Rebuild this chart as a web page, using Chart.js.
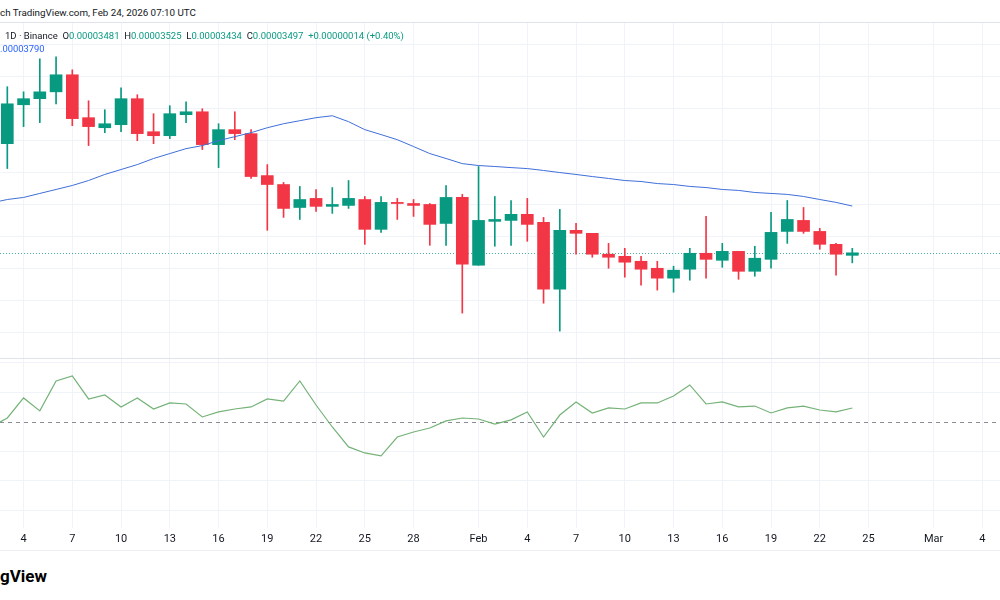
<!DOCTYPE html>
<html>
<head>
<meta charset="utf-8">
<script src="https://cdn.jsdelivr.net/npm/chart.js@4.4.1/dist/chart.umd.min.js"></script>
<style>
  html, body { margin:0; padding:0; background:#fff; }
  body { width:1000px; height:600px; position:relative; overflow:hidden; font-family: Roboto, "Noto Sans", sans-serif; color:#131722; }
  .abs { position:absolute; }
  .txt { white-space:nowrap; line-height:12px; font-size:10px; }
  .g { color:#089981; }
</style>
</head>
<body>
<script>
// ---------- DATA ----------
const dates = [
 '2026-01-02','2026-01-03','2026-01-04','2026-01-05','2026-01-06','2026-01-07','2026-01-08','2026-01-09','2026-01-10','2026-01-11',
 '2026-01-12','2026-01-13','2026-01-14','2026-01-15','2026-01-16','2026-01-17','2026-01-18','2026-01-19','2026-01-20','2026-01-21',
 '2026-01-22','2026-01-23','2026-01-24','2026-01-25','2026-01-26','2026-01-27','2026-01-28','2026-01-29','2026-01-30','2026-01-31',
 '2026-02-01','2026-02-02','2026-02-03','2026-02-04','2026-02-05','2026-02-06','2026-02-07','2026-02-08','2026-02-09','2026-02-10',
 '2026-02-11','2026-02-12','2026-02-13','2026-02-14','2026-02-15','2026-02-16','2026-02-17','2026-02-18','2026-02-19','2026-02-20',
 '2026-02-21','2026-02-22','2026-02-23','2026-02-24'
];
const openPrices = [null,
 0.00004181,0.00004425,0.00004463,0.00004506,0.00004613,0.00004344,0.00004281,0.00004300,0.00004463,0.00004256,
 0.00004231,0.00004363,0.00004381,0.00004175,0.00004269,0.00004244,0.00003981,0.00003925,0.00003781,0.00003838,
 0.00003788,0.00003794,0.00003831,0.00003644,0.00003813,0.00003806,0.00003800,0.00003681,0.00003844,
 0.00003419,0.00003694,0.00003700,0.00003738,0.00003688,0.00003269,0.00003638,0.00003619,0.00003488,0.00003475,
 0.00003444,0.00003400,0.00003338,0.00003394,0.00003494,0.00003450,0.00003506,0.00003381,0.00003456,0.00003631,
 0.00003700,0.00003631,0.00003550,0.00003481];
const highPrices = [null,
 0.00004538,0.00004506,0.00004713,0.00004725,0.00004644,0.00004450,0.00004394,0.00004531,0.00004488,0.00004369,
 0.00004419,0.00004444,0.00004400,0.00004306,0.00004381,0.00004269,0.00004050,0.00003938,0.00003913,0.00003894,
 0.00003906,0.00003950,0.00003850,0.00003850,0.00003838,0.00003831,0.00003806,0.00003919,0.00003863,
 0.00004038,0.00003850,0.00003825,0.00003838,0.00003719,0.00003769,0.00003681,0.00003619,0.00003556,0.00003525,
 0.00003475,0.00003444,0.00003413,0.00003525,0.00003725,0.00003556,0.00003506,0.00003538,0.00003750,0.00003825,
 0.00003781,0.00003650,0.00003556,0.00003525];
const lowPrices = [null,
 0.00004025,0.00004288,0.00004313,0.00004431,0.00004294,0.00004169,0.00004250,0.00004256,0.00004200,0.00004181,
 0.00004213,0.00004313,0.00004144,0.00004031,0.00004206,0.00003963,0.00003638,0.00003719,0.00003706,0.00003756,
 0.00003744,0.00003775,0.00003550,0.00003625,0.00003706,0.00003725,0.00003544,0.00003544,0.00003119,
 0.00003419,0.00003538,0.00003544,0.00003569,0.00003181,0.00003006,0.00003488,0.00003469,0.00003400,0.00003344,
 0.00003294,0.00003263,0.00003250,0.00003325,0.00003338,0.00003406,0.00003331,0.00003350,0.00003400,0.00003556,
 0.00003619,0.00003519,0.00003356,0.00003434];
const closePrices = [null,
 0.00004431,0.00004463,0.00004506,0.00004613,0.00004338,0.00004288,0.00004306,0.00004463,0.00004244,0.00004231,
 0.00004369,0.00004381,0.00004175,0.00004269,0.00004244,0.00003975,0.00003925,0.00003775,0.00003831,0.00003788,
 0.00003800,0.00003838,0.00003644,0.00003813,0.00003806,0.00003794,0.00003675,0.00003844,0.00003425,
 0.00003700,0.00003706,0.00003738,0.00003675,0.00003269,0.00003638,0.00003619,0.00003488,0.00003469,0.00003438,
 0.00003394,0.00003338,0.00003388,0.00003494,0.00003456,0.00003506,0.00003381,0.00003463,0.00003625,0.00003706,
 0.00003631,0.00003550,0.00003488,0.00003497];
const maValues = [
 0.00003809,0.00003831,0.00003844,0.00003869,0.00003894,0.00003919,0.00003950,0.00003988,0.00004019,0.00004050,
 0.00004088,0.00004119,0.00004150,0.00004169,0.00004200,0.00004225,0.00004250,0.00004281,0.00004306,0.00004325,
 0.00004344,0.00004356,0.00004319,0.00004269,0.00004238,0.00004206,0.00004163,0.00004119,0.00004088,0.00004056,
 0.00004044,0.00004038,0.00004031,0.00004025,0.00004013,0.00004000,0.00003988,0.00003975,0.00003963,0.00003950,
 0.00003944,0.00003931,0.00003925,0.00003913,0.00003906,0.00003894,0.00003888,0.00003875,0.00003869,0.00003863,
 0.00003850,0.00003831,0.00003813,0.00003790];
const oscValues = [
 46.6,52.7,66.3,57.5,77.8,81.2,65.6,68.3,60.2,66.3,
 58.8,62.9,62.2,53.4,56.8,58.8,60.2,65.6,64.2,77.8,
 61.5,46.6,33.1,29.0,27.0,39.8,43.2,45.9,50.7,52.7,
 52.0,48.6,51.4,56.8,39.8,54.7,63.6,56.1,59.5,58.8,
 62.9,62.9,67.6,75.1,62.2,63.6,60.2,60.8,56.1,59.5,
 60.8,58.1,56.8,59.5];
const axisTickDates = ['2026-01-04','2026-01-07','2026-01-10','2026-01-13','2026-01-16','2026-01-19','2026-01-22','2026-01-25','2026-01-28',
 '2026-02-01','2026-02-04','2026-02-07','2026-02-10','2026-02-13','2026-02-16','2026-02-19','2026-02-22','2026-02-25','2026-03-01','2026-03-04'];
const axisTickLabels = ['4','7','10','13','16','19','22','25','28','Feb','4','7','10','13','16','19','22','25','Mar','4'];
const priceGridLevels = [0.000030,0.000032,0.000034,0.000036,0.000038,0.000040,0.000042,0.000044,0.000046,0.000048];
const oscGridLevels = [-10,10,30,70,90];
const oscMidLevel = 50;
</script>

<div class="abs txt" style="left:0;top:7px;font-size:9.8px;">ch TradingView.com, Feb 24, 2026 07:10 UTC</div>
<div class="abs" style="left:0;top:22px;width:1000px;height:1px;background:#e0e3eb;"></div>
<div class="abs" style="left:0;top:23px;width:1000px;height:335px;"><canvas id="mainChart"></canvas></div>
<div class="abs txt" id="legend1" style="left:5px;top:30px;font-size:9.5px;"></div>
<div class="abs txt" id="legend2" style="left:0;top:43px;color:#2962ff;font-size:9.4px;"></div>
<div class="abs" style="left:0;top:358px;width:1000px;height:1px;background:#e0e3eb;"></div>
<div class="abs" style="left:0;top:359px;width:1000px;height:191px;"><canvas id="oscChart"></canvas></div>
<div class="abs" style="left:0;top:550px;width:1000px;height:1px;background:#eceef2;"></div>
<div class="abs" style="left:0;top:566px;font-weight:bold;font-size:17px;line-height:20px;color:#000;">gView</div>

<script>
const UP = '#089981', DOWN = '#F23645', GRID = '#f0f3fa';
const DAY = 86400000;
const t0 = Date.parse(dates[0] + 'T00:00:00Z');
const dayIndex = d => (Date.parse(d + 'T00:00:00Z') - t0) / DAY;
const xs = dates.map(dayIndex);
const xMin = 0.55, xMax = 62.09;

const fmt = v => v.toFixed(8);
const last = dates.length - 1;
document.getElementById('legend1').innerHTML =
  '1D · Binance&nbsp;&nbsp;O<span class="g">' + fmt(openPrices[last]) + '</span>&nbsp;&nbsp;H<span class="g">' + fmt(highPrices[last]) +
  '</span>&nbsp;&nbsp;L<span class="g">' + fmt(lowPrices[last]) + '</span>&nbsp;&nbsp;C<span class="g">' + fmt(closePrices[last]) +
  '</span>&nbsp;&nbsp;<span class="g">+' + fmt(0.00000014) + ' (+0.40%)</span>';
document.getElementById('legend2').textContent = fmt(maValues[last]).slice(1);

const candleBodies = [], candleWicks = [];
dates.forEach((d, i) => {
  if (openPrices[i] == null) return;
  candleBodies.push({x: xs[i], y: [openPrices[i], closePrices[i]]});
  candleWicks.push({x: xs[i], y: [lowPrices[i], highPrices[i]], up: closePrices[i] >= openPrices[i]});
});
const bodyColor = ctx => { const r = ctx.raw; return (r && r.y && r.y[1] >= r.y[0]) ? UP : DOWN; };
const wickColor = ctx => { const r = ctx.raw; return (r && r.up) ? UP : DOWN; };

const xScaleCommon = (showLabels) => ({
  type: 'linear', min: xMin, max: xMax, offset: false,
  grid: { color: GRID, drawTicks: false, offset: false },
  border: { display: false },
  afterBuildTicks: s => { s.ticks = axisTickDates.map(d => ({ value: dayIndex(d) })); },
  ticks: {
    display: showLabels, autoSkip: false, maxRotation: 0, padding: 5,
    color: '#131722', font: { family: 'Roboto', size: 11 },
    callback: (v, i) => axisTickLabels[i]
  },
  afterFit: s => { s.height = showLabels ? 22 : 0; }
});

const priceLinePlugin = {
  id: 'priceLine',
  beforeDatasetsDraw(chart) {
    const y = chart.scales.y.getPixelForValue(closePrices[last]);
    const ctx = chart.ctx, a = chart.chartArea;
    ctx.save(); ctx.strokeStyle = 'rgba(8,153,129,0.75)'; ctx.lineWidth = 1; ctx.setLineDash([1, 2]);
    ctx.beginPath(); ctx.moveTo(a.left, Math.round(y) + 0.5); ctx.lineTo(a.right, Math.round(y) + 0.5); ctx.stroke();
    ctx.restore();
  }
};

new Chart(document.getElementById('mainChart'), {
  type: 'bar',
  data: {
    datasets: [
      { type: 'line', data: dates.map((d, i) => ({x: xs[i], y: maValues[i]})), borderColor: '#3f6fd8', borderWidth: 1,
        pointRadius: 0, tension: 0, order: 0 },
      { data: candleBodies, backgroundColor: bodyColor, borderWidth: 0, barThickness: 12, minBarLength: 1, grouped: false, order: 1 },
      { data: candleWicks, backgroundColor: wickColor, borderWidth: 0, barThickness: 1, grouped: false, order: 2 }
    ]
  },
  options: {
    responsive: true, maintainAspectRatio: false, animation: false, events: [],
    layout: { padding: 0 },
    plugins: { legend: { display: false }, tooltip: { enabled: false } },
    scales: {
      x: xScaleCommon(false),
      y: {
        type: 'linear', position: 'right',
        min: 0.000028375, max: 0.000049375,
        grid: { color: GRID, drawTicks: false }, border: { display: false },
        afterBuildTicks: s => { s.ticks = priceGridLevels.map(v => ({ value: v })); },
        ticks: { display: false },
        afterFit: s => { s.width = 0; }
      }
    }
  },
  plugins: [priceLinePlugin]
});

const midLinePlugin = {
  id: 'midLine',
  beforeDatasetsDraw(chart) {
    const y = Math.round(chart.scales.y.getPixelForValue(oscMidLevel)) + 0.5;
    const ctx = chart.ctx, a = chart.chartArea;
    ctx.save(); ctx.strokeStyle = '#8a8d96'; ctx.lineWidth = 1; ctx.setLineDash([4, 4]);
    ctx.beginPath(); ctx.moveTo(a.left, y); ctx.lineTo(a.right, y); ctx.stroke();
    ctx.restore();
  }
};

new Chart(document.getElementById('oscChart'), {
  type: 'line',
  data: {
    datasets: [
      { data: dates.map((d, i) => ({x: xs[i], y: oscValues[i]})), borderColor: '#74b277', borderWidth: 1.2,
        pointRadius: 0, tension: 0 }
    ]
  },
  options: {
    responsive: true, maintainAspectRatio: false, animation: false, events: [],
    layout: { padding: 0 },
    plugins: { legend: { display: false }, tooltip: { enabled: false } },
    scales: {
      x: xScaleCommon(true),
      y: {
        type: 'linear', position: 'right', min: -21.9, max: 92.7,
        grid: { color: GRID, drawTicks: false }, border: { display: false },
        afterBuildTicks: s => { s.ticks = oscGridLevels.map(v => ({ value: v })); },
        ticks: { display: false },
        afterFit: s => { s.width = 0; }
      }
    }
  },
  plugins: [midLinePlugin]
});
</script>
</body>
</html>
